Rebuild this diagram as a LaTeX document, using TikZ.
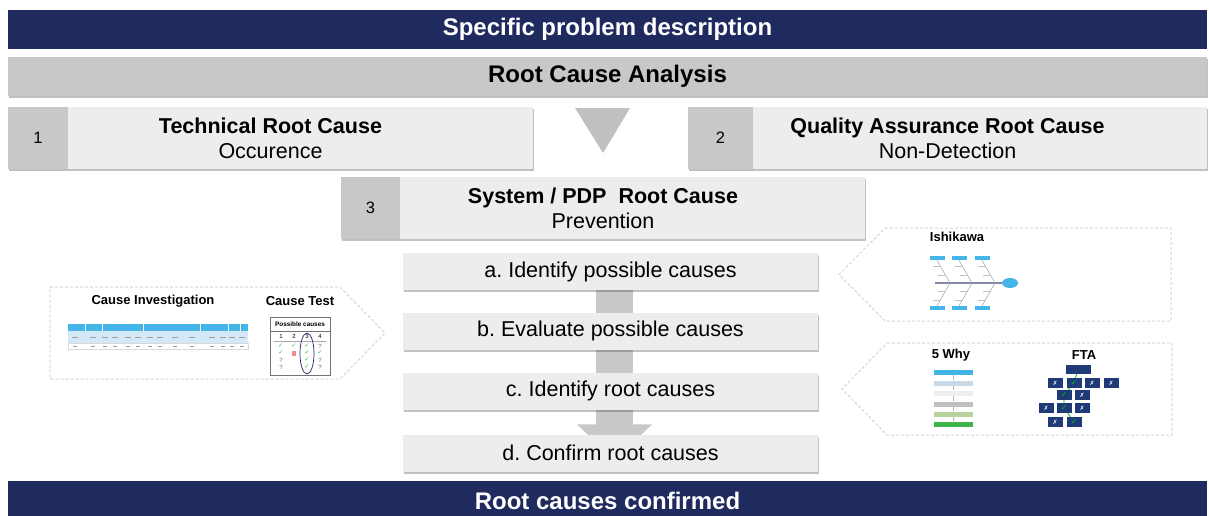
\documentclass[tikz,border=0pt]{standalone}
\usepackage{fontspec}
\setmainfont{Liberation Sans}
\newfontfamily\symfont{DejaVu Sans}
\usetikzlibrary{arrows.meta,shadows,backgrounds,positioning}
\frenchspacing

\definecolor{rcnavy}{HTML}{1F2A5F}
\definecolor{rcgrey}{HTML}{C8C8C6}
\definecolor{rclight}{HTML}{EDEDED}
\definecolor{rctri}{HTML}{C0C0C0}
\definecolor{rcdash}{HTML}{D5D5D5}
\definecolor{rcblue}{HTML}{45B4E8}
\definecolor{rcpale}{HTML}{D3E9F7}
\definecolor{rcgreen}{HTML}{2DB34A}
\definecolor{rcred}{HTML}{F28C8C}
\definecolor{ftanavy}{HTML}{1E3A78}
\definecolor{why1}{HTML}{41B6E6}
\definecolor{why2}{HTML}{C9D9E8}
\definecolor{why3}{HTML}{EEEEEE}
\definecolor{why4}{HTML}{BFBFBF}
\definecolor{why5}{HTML}{B8D39E}
\definecolor{why6}{HTML}{3DB54A}

\newcommand{\chk}{{\symfont\color{rcgreen}✓}}
\newcommand{\qm}{{\color{black!60}?}}
\newcommand{\crs}{{\color{white}✗}}
\newcommand{\ftachk}{{\fontsize{8}{8}\selectfont\color{green!75!black}✓}}

\tikzset{
  band/.style={minimum width=1199pt, minimum height=39pt, inner sep=0pt,
    font=\bfseries\fontsize{24}{28}\selectfont},
  shade box/.style={drop shadow={shadow xshift=0.8pt, shadow yshift=-2.2pt,
    fill=black!70, opacity=0.35}},
  levelbox/.style={shade box, fill=rclight, minimum height=62pt, inner sep=0pt,
    align=center, font=\fontsize{21.5}{25}\selectfont},
  numcell/.style={fill=rcgrey, minimum height=62pt, inner sep=0pt,
    font=\fontsize{16.5}{18}\selectfont},
  stepbox/.style={shade box, fill=rclight, minimum width=415pt, minimum height=37pt,
    inner sep=0pt, font=\fontsize{21.5}{24}\selectfont},
  panel/.style={draw=rcdash, line width=1pt, dash pattern=on 3pt off 2pt},
  thumbtitle/.style={font=\bfseries\fontsize{13}{15}\selectfont, inner sep=0pt},
  smalltext/.style={font=\fontsize{6}{7}\selectfont, inner sep=0pt},
  fishbox/.style={fill=rcblue, minimum width=15pt, minimum height=4pt, inner sep=0pt},
  whybox/.style={draw=white, line width=0.4pt, minimum width=40pt, minimum height=6pt, inner sep=0pt},
  ftabox/.style={fill=ftanavy, minimum width=15pt, minimum height=10pt, inner sep=0pt,
    font=\symfont\fontsize{6}{6}\selectfont},
}

\begin{document}
\begin{tikzpicture}[x=1pt,y=-1pt]
\useasboundingbox (0,0) rectangle (1209,515);

% bands
\node[band, fill=rcnavy, text=white] (desc) at (607.5,29.5) {Specific problem description};
\node[band, shade box, fill=rcgrey] (rca) at (607.5,76.5) {Root Cause Analysis};
\node[band, fill=rcnavy, text=white, minimum height=40pt] (done) at (607.5,501) {Root causes confirmed};

% the three levels
\node[levelbox, minimum width=525pt] (tech) at (270.5,138) {\textbf{Technical Root Cause}\\Occurence};
\node[numcell, minimum width=60pt, anchor=west] (tech num) at (tech.west) {1};
\node[levelbox, minimum width=519pt] (qa) at (947.5,138) {\textbf{Quality Assurance Root Cause}\\Non-Detection};
\node[numcell, minimum width=65pt, anchor=west] (qa num) at (qa.west) {2};
\node[levelbox, minimum width=524pt] (sys) at (603,208) {\textbf{System / PDP~~Root Cause}\\Prevention};
\node[numcell, minimum width=59pt, anchor=west] (sys num) at (sys.west) {3};
\fill[rctri] (575,108) -- (630,108) -- (603,153) -- cycle;

% steps a--d
\node[stepbox] (ida) at (610.5,271.5) {a. Identify possible causes};
\node[stepbox] (eva) at (610.5,331) {b. Evaluate possible causes};
\node[stepbox] (idr) at (610.5,391) {c. Identify root causes};
\node[stepbox] (conf) at (610.5,453) {d. Confirm root causes};
\begin{scope}[on background layer]
\draw[rcgrey, line width=37pt, -{Triangle[width=73pt, length=36pt]}]
  ([xshift=4pt]ida.south) -- ([xshift=4pt, yshift=-26pt]conf.north);
\end{scope}

% dashed panels
\draw[panel] (50,287) -- (340,287) -- (385,333) -- (340,379) -- (50,379) -- cycle;
\draw[panel] (885,228) -- (1171,228) -- (1171,321) -- (885,321) -- (839,274.5) -- cycle;
\draw[panel] (887,343) -- (1172,343) -- (1172,435) -- (887,435) -- (842,389) -- cycle;

% cause investigation / cause test
\node[thumbtitle] (inv title) at (153,301) {Cause Investigation};
\node[thumbtitle] (test title) at (300,301) {Cause Test};
\fill[rcblue] (68,324) rectangle (248,331);
\fill[rcpale] (68,331) rectangle (248,343);
\draw[black!15, line width=0.4pt] (68,343) rectangle (248,349);
\foreach \x in {85,102,143,200,228,240}
  \draw[white, line width=0.7pt] (\x,324) -- (\x,331);
\foreach \x in {75,93,105,115,128,138,150,160,175,192,212,223,232,242}
  \draw[black!40, line width=0.5pt] (\x-3,337) -- (\x+3,337) (\x-2,346) -- (\x+2,346);
\draw[black!55, line width=0.8pt] (270,317) rectangle (330,375);
\draw[black!55, line width=0.6pt] (270,331) -- (330,331);
\node[smalltext, font=\bfseries\fontsize{6.4}{7}\selectfont] (poss) at (300,324.5) {Possible causes};
\foreach \x [count=\i] in {281,294,307,320}
  \node[smalltext] (col\i) at (\x,336) {\i};
\draw[black!35, line width=0.5pt] (274,341) -- (326,341);
\foreach \x/\y/\m [count=\i] in {281/346/\chk, 294/346/\chk, 307/346/\chk, 320/346/\qm,
    281/353/\chk, 307/353/\chk, 320/353/\chk,
    281/360/\qm, 307/360/\chk, 320/360/\qm,
    281/367/\qm, 307/367/\chk, 320/367/\qm}
  \node[smalltext] (mark\i) at (\x,\y) {\m};
\fill[rcred] (292,350.5) rectangle (296,355.5);
\draw[rcnavy, line width=0.7pt] (307,353.5) ellipse (7 and 20.5);

% ishikawa
\node[thumbtitle] (fish title) at (957,237) {Ishikawa};
\draw[rcnavy!55, line width=1.2pt] (935,283) -- (1002,283);
\fill[rcblue] (1010,283) ellipse (8 and 5);
\foreach \x/\s [count=\i] in {937/950, 959/972, 982/995} {
  \node[fishbox] (top\i) at (\x,258) {};
  \node[fishbox] (bot\i) at (\x,308) {};
  \draw[rcnavy!45, line width=0.5pt] (top\i.south) -- (\s,283) -- (bot\i.north);
  \draw[rcnavy!30, line width=0.4pt] (\x+3,266) -- +(-7,0) (\x+8,275) -- +(-7,0)
    (\x+3,300) -- +(-7,0) (\x+8,291) -- +(-7,0);
}

% 5 why
\node[thumbtitle] (why title) at (951,355) {5 Why};
\foreach \y/\c [count=\i] in {372/why1, 383/why2, 393/why3, 404/why4, 414/why5, 424/why6}
  \node[whybox, fill=\c] (why\i) at (953,\y) {};
\foreach \i in {1,...,5} {
  \pgfmathtruncatemacro\j{\i+1}
  \draw[black!30, line width=0.5pt] (why\i) -- (why\j);
}

% fta
\node[thumbtitle] (fta title) at (1084,355) {FTA};
\node[ftabox, minimum width=25pt, minimum height=9pt] (fta0) at (1078,369) {};
\foreach \n/\x/\y/\m in {f21/1055/383/\crs, f22/1074/383/\ftachk, f23/1092/383/\crs, f24/1111/383/\crs,
    f31/1064/395/\ftachk, f32/1082/395/\crs,
    f41/1046/408/\crs, f42/1064/408/\ftachk, f43/1082/408/\crs,
    f51/1055/422/\crs, f52/1074/422/\ftachk}
  \node[ftabox] (\n) at (\x,\y) {\m};
\draw[green!75!black, line width=0.8pt] (fta0) -- (f22) -- (f31) -- (f42) -- (f52);
\end{tikzpicture}
\end{document}
